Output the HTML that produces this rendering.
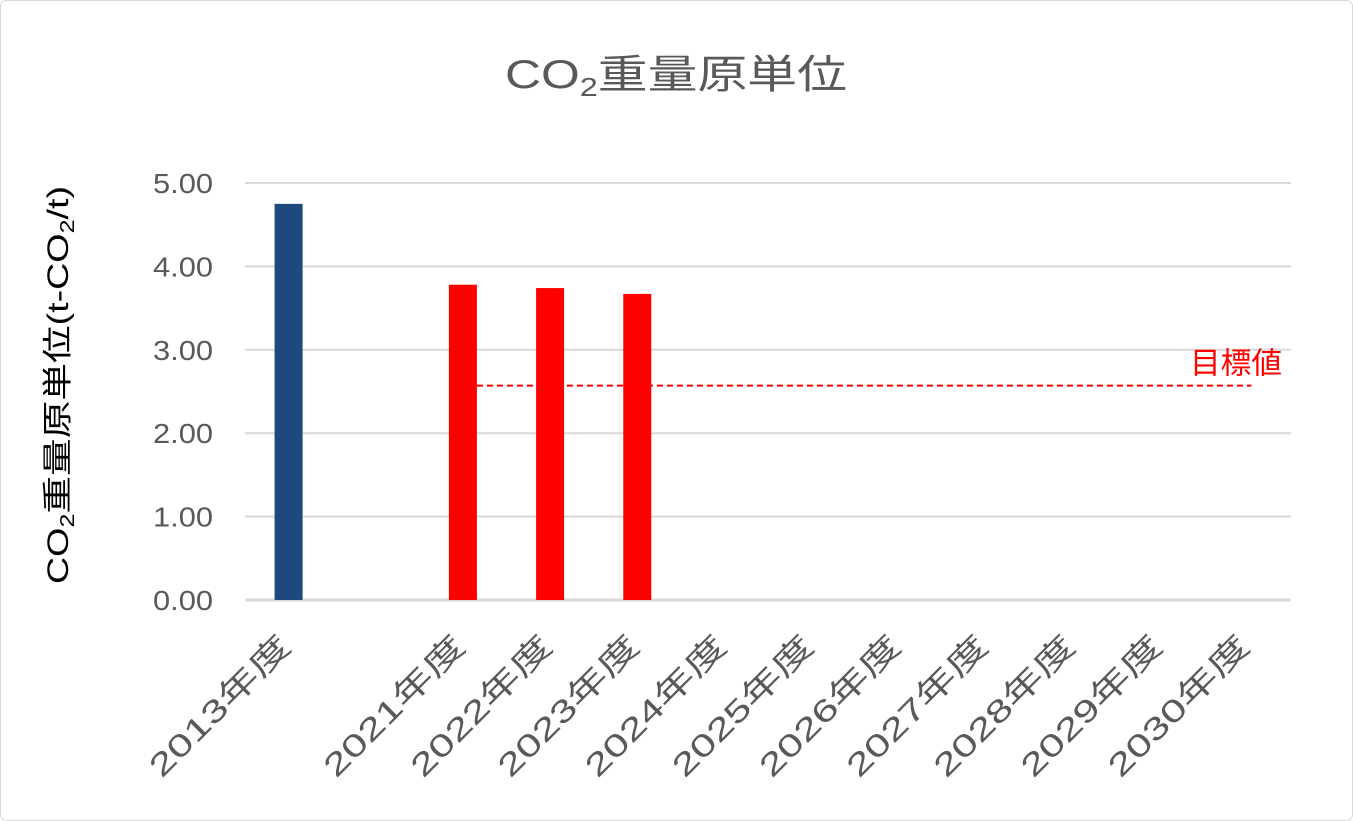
<!DOCTYPE html>
<html><head><meta charset="utf-8">
<style>
html,body{margin:0;padding:0;background:#fff;}
svg{display:block;font-family:"Liberation Sans","Noto Sans CJK JP",sans-serif;}
</style></head>
<body>
<svg id="chart" width="1353" height="821" viewBox="0 0 1353 821">
  <rect x="0.5" y="0.5" width="1352" height="820" rx="6" fill="#fff" stroke="#d9d9d9"/>
  <text x="676" y="88" text-anchor="middle" font-size="40" fill="#595959" textLength="342" lengthAdjust="spacingAndGlyphs">CO<tspan font-size="26" dy="8">2</tspan><tspan dy="-8">重量原単位</tspan></text>
  <text transform="translate(68,385) rotate(-90)" text-anchor="middle" font-size="30" fill="#000" textLength="398" lengthAdjust="spacingAndGlyphs">CO<tspan font-size="20" dy="6">2</tspan><tspan dy="-6">重量原単位(t-CO</tspan><tspan font-size="20" dy="6">2</tspan><tspan dy="-6">/t)</tspan></text>
  <g id="grid"></g>
  <g id="bars"></g>
  <g id="xlabels"></g>
  <g id="target"></g>
</svg>
<script>
const categories = ["2013年度","","2021年度","2022年度","2023年度","2024年度","2025年度","2026年度","2027年度","2028年度","2029年度","2030年度"];
const values = [4.75, null, 3.78, 3.74, 3.67, null, null, null, null, null, null, null];
const barColors = ["#1f497d", null, "#ff0000", "#ff0000", "#ff0000"];
const yTicks = [0, 1, 2, 3, 4, 5];
const yTickLabels = ["0.00","1.00","2.00","3.00","4.00","5.00"];
const targetValue = 2.57;
const targetLabel = "目標値";
const targetStartIndex = 2;
const targetEndIndex = 11;

const NS = "http://www.w3.org/2000/svg";
const plotL = 245, plotR = 1291, y0 = 600, yTop = 183, yMax = 5;
const slot = (plotR - plotL) / categories.length;
const yS = v => y0 - (v / yMax) * (y0 - yTop);
const xC = i => plotL + slot * (i + 0.5);
function mk(tag, attrs, parent){const e=document.createElementNS(NS,tag);for(const k in attrs)e.setAttribute(k,attrs[k]);parent.appendChild(e);return e;}

const grid = document.getElementById("grid");
yTicks.forEach((t, i) => {
  const l = mk("line", {x1:plotL, x2:plotR, y1:yS(t), y2:yS(t), stroke:"#d9d9d9", "stroke-width": t===0?3:2}, grid);
  
  
  const tx = mk("text", {x:213, y:yS(t)+10, "text-anchor":"end", "font-size":28, fill:"#595959", textLength:60, lengthAdjust:"spacingAndGlyphs"}, grid);
  tx.textContent = yTickLabels[i];
  
  
});

const bars = document.getElementById("bars");
const bw = 28;
values.forEach((v, i) => {
  if (v == null) return;
  const r = mk("rect", {x:xC(i)-bw/2, y:yS(v), width:bw, height:y0-yS(v), fill:barColors[i]||"#ff0000"}, bars);
  
  
});

const xl = document.getElementById("xlabels");
categories.forEach((c, i) => {
  if (!c) return;
  const t = mk("text", {transform:`translate(${xC(i)+4},${648}) rotate(-45)`, "text-anchor":"end", "font-size":31, fill:"#595959", textLength:185, lengthAdjust:"spacingAndGlyphs"}, xl);
  t.textContent = c;
  
  
});

const tg = document.getElementById("target");
const tl = mk("line", {x1:xC(targetStartIndex)+bw/2, x2:xC(targetEndIndex)+4, y1:yS(targetValue), y2:yS(targetValue), stroke:"#ff0000", "stroke-width":2, "stroke-dasharray":"6,4"}, tg);


const tt = mk("text", {x:1282, y:yS(targetValue)-12, "text-anchor":"end", "font-size":30, fill:"#ff0000", textLength:92, lengthAdjust:"spacingAndGlyphs"}, tg);
tt.textContent = targetLabel;


</script>
</body></html>
